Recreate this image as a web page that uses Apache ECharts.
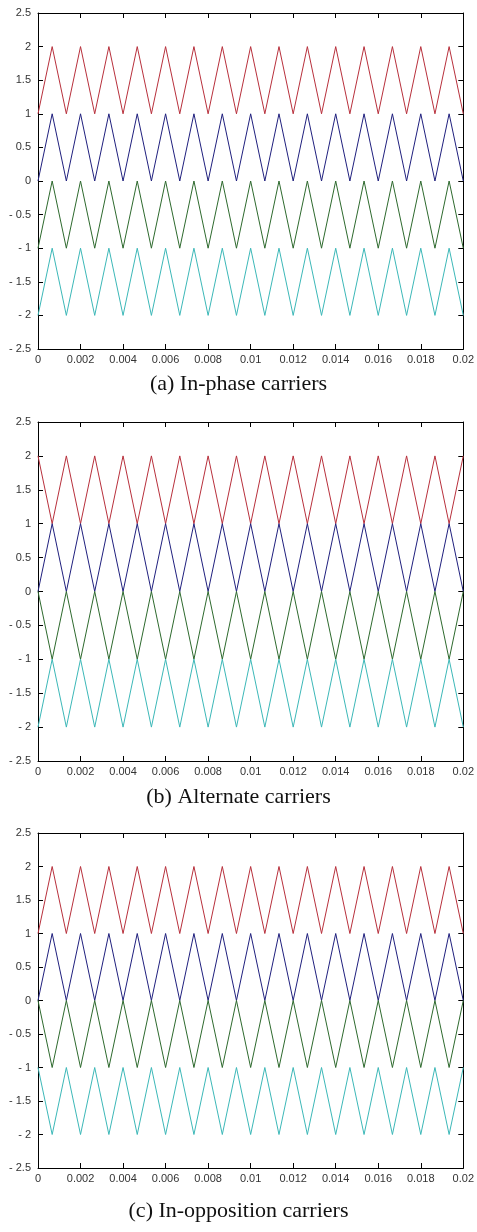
<!DOCTYPE html>
<html>
<head>
<meta charset="utf-8">
<script src="https://cdn.jsdelivr.net/npm/echarts@6/dist/echarts.min.js"></script>
<style>
html,body{margin:0;padding:0;background:#fff;}
#c{width:477px;height:1232px;}
</style>
</head>
<body>
<div id="c"></div>
<script>
// Vertex times (s) of the triangular carriers, 750 Hz over 0..0.02 s
var times = [0, 0.000667, 0.001333, 0.002, 0.002667, 0.003333, 0.004, 0.004667, 0.005333, 0.006,
  0.006667, 0.007333, 0.008, 0.008667, 0.009333, 0.01, 0.010667, 0.011333, 0.012, 0.012667,
  0.013333, 0.014, 0.014667, 0.015333, 0.016, 0.016667, 0.017333, 0.018, 0.018667, 0.019333, 0.02];

// (a) In-phase carriers
var inPhaseRed   = [1,2,1,2,1,2,1,2,1,2,1,2,1,2,1,2,1,2,1,2,1,2,1,2,1,2,1,2,1,2,1];
var inPhaseBlue  = [0,1,0,1,0,1,0,1,0,1,0,1,0,1,0,1,0,1,0,1,0,1,0,1,0,1,0,1,0,1,0];
var inPhaseGreen = [-1,0,-1,0,-1,0,-1,0,-1,0,-1,0,-1,0,-1,0,-1,0,-1,0,-1,0,-1,0,-1,0,-1,0,-1,0,-1];
var inPhaseCyan  = [-2,-1,-2,-1,-2,-1,-2,-1,-2,-1,-2,-1,-2,-1,-2,-1,-2,-1,-2,-1,-2,-1,-2,-1,-2,-1,-2,-1,-2,-1,-2];

// (b) Alternate carriers
var altRed   = [2,1,2,1,2,1,2,1,2,1,2,1,2,1,2,1,2,1,2,1,2,1,2,1,2,1,2,1,2,1,2];
var altBlue  = [0,1,0,1,0,1,0,1,0,1,0,1,0,1,0,1,0,1,0,1,0,1,0,1,0,1,0,1,0,1,0];
var altGreen = [0,-1,0,-1,0,-1,0,-1,0,-1,0,-1,0,-1,0,-1,0,-1,0,-1,0,-1,0,-1,0,-1,0,-1,0,-1,0];
var altCyan  = [-2,-1,-2,-1,-2,-1,-2,-1,-2,-1,-2,-1,-2,-1,-2,-1,-2,-1,-2,-1,-2,-1,-2,-1,-2,-1,-2,-1,-2,-1,-2];

// (c) In-opposition carriers
var oppRed   = [1,2,1,2,1,2,1,2,1,2,1,2,1,2,1,2,1,2,1,2,1,2,1,2,1,2,1,2,1,2,1];
var oppBlue  = [0,1,0,1,0,1,0,1,0,1,0,1,0,1,0,1,0,1,0,1,0,1,0,1,0,1,0,1,0,1,0];
var oppGreen = [0,-1,0,-1,0,-1,0,-1,0,-1,0,-1,0,-1,0,-1,0,-1,0,-1,0,-1,0,-1,0,-1,0,-1,0,-1,0];
var oppCyan  = [-1,-2,-1,-2,-1,-2,-1,-2,-1,-2,-1,-2,-1,-2,-1,-2,-1,-2,-1,-2,-1,-2,-1,-2,-1,-2,-1,-2,-1,-2,-1];

var captions = ['(a) In-phase carriers', '(b) Alternate carriers', '(c) In-opposition carriers'];
var panels = [
  [inPhaseRed, inPhaseBlue, inPhaseGreen, inPhaseCyan],
  [altRed, altBlue, altGreen, altCyan],
  [oppRed, oppBlue, oppGreen, oppCyan]
];
var colors = ['#b8303c', '#20207e', '#2e6a2e', '#3cb8b8'];

var gridPos = [
  {top: 13, height: 336, capY: 368},
  {top: 422, height: 339, capY: 781},
  {top: 833, height: 335, capY: 1195}
];

function pairs(vals) {
  return vals.map(function (v, i) { return [times[i], v]; });
}
function yFmt(v) {
  if (v < 0) return '- ' + Math.abs(v);
  return String(v);
}

var grids = [], xAxes = [], yAxes = [], series = [], titles = [];
var lineCol = '#000';
gridPos.forEach(function (g, p) {
  grids.push({left: 38, width: 428, top: g.top, height: g.height, containLabel: false});
  titles.push({
    text: captions[p], left: 'center', top: g.capY,
    textStyle: {fontFamily: 'Liberation Serif', fontSize: 22, fontWeight: 'normal', color: '#111'}
  });
  var tickCommon = {show: true, inside: true, length: 5, lineStyle: {color: lineCol, width: 1}};
  xAxes.push({
    type: 'value', gridIndex: p, min: 0, max: 0.02, interval: 0.002, position: 'bottom',
    axisLine: {show: true, onZero: false, lineStyle: {color: lineCol, width: 1}},
    axisTick: tickCommon, splitLine: {show: false},
    axisLabel: {show: true, margin: 5, fontFamily: 'Liberation Sans', fontSize: 11, color: '#333',
      showMaxLabel: true, showMinLabel: true}
  });
  xAxes.push({
    type: 'value', gridIndex: p, min: 0, max: 0.02, interval: 0.002, position: 'top',
    axisLine: {show: true, onZero: false, lineStyle: {color: lineCol, width: 1}},
    axisTick: tickCommon, splitLine: {show: false}, axisLabel: {show: false}
  });
  yAxes.push({
    type: 'value', gridIndex: p, min: -2.5, max: 2.5, interval: 0.5, position: 'left',
    axisLine: {show: true, onZero: false, lineStyle: {color: lineCol, width: 1}},
    axisTick: tickCommon, splitLine: {show: false},
    axisLabel: {show: true, margin: 7, fontFamily: 'Liberation Sans', fontSize: 11, color: '#333', formatter: yFmt}
  });
  yAxes.push({
    type: 'value', gridIndex: p, min: -2.5, max: 2.5, interval: 0.5, position: 'right',
    axisLine: {show: true, onZero: false, lineStyle: {color: lineCol, width: 1}},
    axisTick: tickCommon, splitLine: {show: false}, axisLabel: {show: false}
  });
  panels[p].forEach(function (vals, s) {
    series.push({
      type: 'line', xAxisIndex: p * 2, yAxisIndex: p * 2, data: pairs(vals),
      showSymbol: false, symbol: 'none', silent: true,
      lineStyle: {color: colors[s], width: 1}
    });
  });
});

var chart = echarts.init(document.getElementById('c'), null, {renderer: 'canvas'});
chart.setOption({
  animation: false,
  backgroundColor: '#fff',
  title: titles,
  grid: grids,
  xAxis: xAxes,
  yAxis: yAxes,
  series: series
});
</script>
</body>
</html>
